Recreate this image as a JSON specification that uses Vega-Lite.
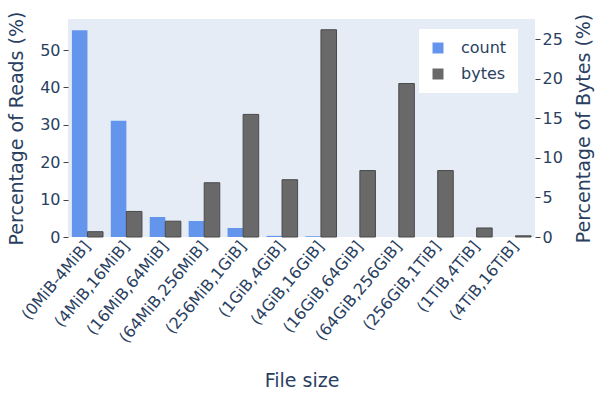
{
  "$schema": "https://vega.github.io/schema/vega-lite/v6.json",
  "width": 467,
  "height": 218,
  "autosize": {"type": "none"},
  "padding": {"left": 68, "top": 19, "right": 65, "bottom": 160},
  "background": "white",
  "config": {
    "view": {"fill": "#E5ECF6", "stroke": null},
    "font": "DejaVu Sans",
    "axis": {
      "grid": false,
      "domain": false,
      "labelFontSize": 16,
      "labelColor": "#2a3f5f",
      "titleFontSize": 19,
      "titleColor": "#2a3f5f",
      "titleFontWeight": "normal",
      "tickColor": "#444444",
      "tickSize": 5,
      "tickWidth": 1
    },
    "legend": {
      "orient": "none",
      "legendX": 351,
      "legendY": 10,
      "fillColor": "white",
      "padding": 11,
      "symbolType": "square",
      "symbolSize": 121,
      "symbolStrokeWidth": 0,
      "labelFontSize": 16,
      "labelColor": "#2a3f5f",
      "labelOffset": 15,
      "rowPadding": 10
    }
  },
  "data": {
    "values": [
      {"size": "(0MiB-4MiB]", "series": "count", "value": 55.3},
      {"size": "(4MiB,16MiB]", "series": "count", "value": 31.1},
      {"size": "(16MiB,64MiB]", "series": "count", "value": 5.35},
      {"size": "(64MiB,256MiB]", "series": "count", "value": 4.3},
      {"size": "(256MiB,1GiB]", "series": "count", "value": 2.4},
      {"size": "(1GiB,4GiB]", "series": "count", "value": 0.3},
      {"size": "(4GiB,16GiB]", "series": "count", "value": 0.2},
      {"size": "(16GiB,64GiB]", "series": "count", "value": 0.0},
      {"size": "(64GiB,256GiB]", "series": "count", "value": 0.0},
      {"size": "(256GiB,1TiB]", "series": "count", "value": 0.0},
      {"size": "(1TiB,4TiB]", "series": "count", "value": 0.0},
      {"size": "(4TiB,16TiB]", "series": "count", "value": 0.0},
      {"size": "(0MiB-4MiB]", "series": "bytes", "value": 0.67},
      {"size": "(4MiB,16MiB]", "series": "bytes", "value": 3.23},
      {"size": "(16MiB,64MiB]", "series": "bytes", "value": 2.0},
      {"size": "(64MiB,256MiB]", "series": "bytes", "value": 6.86},
      {"size": "(256MiB,1GiB]", "series": "bytes", "value": 15.5},
      {"size": "(1GiB,4GiB]", "series": "bytes", "value": 7.24},
      {"size": "(4GiB,16GiB]", "series": "bytes", "value": 26.2},
      {"size": "(16GiB,64GiB]", "series": "bytes", "value": 8.4},
      {"size": "(64GiB,256GiB]", "series": "bytes", "value": 19.4},
      {"size": "(256GiB,1TiB]", "series": "bytes", "value": 8.4},
      {"size": "(1TiB,4TiB]", "series": "bytes", "value": 1.14},
      {"size": "(4TiB,16TiB]", "series": "bytes", "value": 0.15}
    ]
  },
  "encoding": {
    "x": {
      "field": "size",
      "type": "nominal",
      "scale": {
        "domain": ["(0MiB-4MiB]", "(4MiB,16MiB]", "(16MiB,64MiB]", "(64MiB,256MiB]", "(256MiB,1GiB]", "(1GiB,4GiB]", "(4GiB,16GiB]", "(16GiB,64GiB]", "(64GiB,256GiB]", "(256GiB,1TiB]", "(1TiB,4TiB]", "(4TiB,16TiB]"],
        "paddingInner": 0.2,
        "paddingOuter": 0.1
      },
      "axis": {
        "title": "File size",
        "labelAngle": -50,
        "labelAlign": "right",
        "labelBaseline": "middle",
        "ticks": false,
        "labelPadding": 6,
        "titleY": 143,
        "titleBaseline": "middle"
      }
    },
    "xOffset": {
      "field": "series",
      "type": "nominal",
      "scale": {"domain": ["count", "bytes"], "paddingInner": 0, "paddingOuter": 0}
    },
    "color": {
      "field": "series",
      "type": "nominal",
      "scale": {"domain": ["count", "bytes"], "range": ["#6495ED", "#696969"]},
      "legend": {"title": null}
    }
  },
  "layer": [
    {
      "transform": [{"filter": "datum.series === 'count'"}],
      "mark": {"type": "bar"},
      "encoding": {
        "y": {
          "field": "value",
          "type": "quantitative",
          "scale": {"domain": [0, 58.3], "nice": false, "zero": true},
          "axis": {
            "orient": "left",
            "title": "Percentage of Reads (%)",
            "values": [0, 10, 20, 30, 40, 50],
            "labelPadding": 3,
            "titleX": -52,
            "titleY": 109,
            "titleAngle": -90,
            "titleAlign": "center",
            "titleBaseline": "middle"
          }
        }
      }
    },
    {
      "transform": [{"filter": "datum.series === 'bytes'"}],
      "mark": {"type": "bar", "stroke": "#4a4a4a", "strokeWidth": 1},
      "encoding": {
        "y": {
          "field": "value",
          "type": "quantitative",
          "scale": {"domain": [0, 27.56], "nice": false, "zero": true},
          "axis": {
            "orient": "right",
            "title": "Percentage of Bytes (%)",
            "values": [0, 5, 10, 15, 20, 25],
            "labelPadding": 2,
            "titleX": 48,
            "titleY": 109,
            "titleAngle": -90,
            "titleAlign": "center",
            "titleBaseline": "middle"
          }
        }
      }
    }
  ],
  "resolve": {"scale": {"y": "independent"}}
}
